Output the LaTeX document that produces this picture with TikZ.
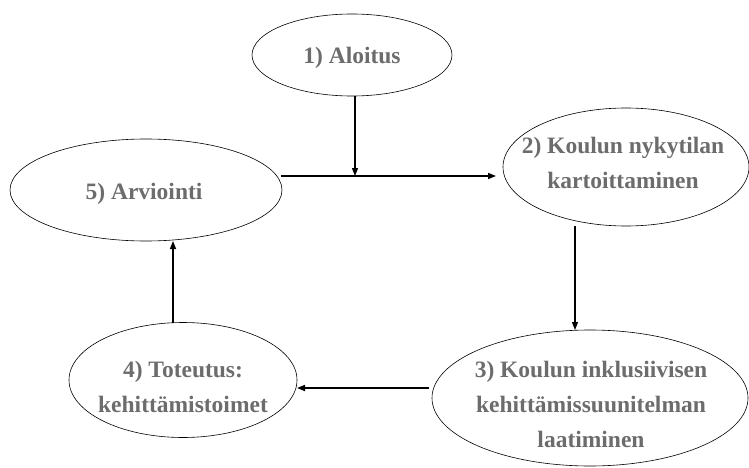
\documentclass[tikz,border=0pt]{standalone}
\usepackage{fontspec}
\setmainfont{Liberation Serif}
\usetikzlibrary{shapes.geometric,arrows.meta}
\definecolor{txtgray}{RGB}{108,108,108}
\tikzset{
  stage/.style={ellipse, draw=black, line width=0.6pt, inner sep=0pt, outer sep=0pt},
  stagetext/.style={anchor=base, inner sep=0pt, text=txtgray,
    font=\bfseries\fontsize{23.5}{35}\selectfont},
  arr/.style={draw=black, line width=1.1pt, -{Triangle[length=8pt,width=6pt]}}
}
\newcommand{\stagelines}[1]{\begin{tabular}[t]{@{}c@{}}#1\end{tabular}}
\begin{document}
\begin{tikzpicture}[x=1pt,y=-1pt]
\useasboundingbox (0,0) rectangle (749,468);
\node[stage, minimum width=200pt, minimum height=82pt] (e1) at (352,55) {};
\node[stage, minimum width=272pt, minimum height=102pt] (e5) at (146,190) {};
\node[stage, minimum width=246pt, minimum height=118pt] (e2) at (626,167) {};
\node[stage, minimum width=316pt, minimum height=136pt] (e3) at (590,398) {};
\node[stage, minimum width=228pt, minimum height=115pt] (e4) at (183,380) {};
\node[stagetext] (e1t) at (352,63.5) {1) Aloitus};
\node[stagetext] (e5t) at (144,199.5) {5) Arviointi};
\node[stagetext] (e2t) at (623,153.5) {\stagelines{2) Koulun nykytilan\\kartoittaminen}};
\node[stagetext] (e3t) at (591,377) {\stagelines{3) Koulun inklusiivisen\\kehittämissuunitelman\\laatiminen}};
\node[stagetext] (e4t) at (183,377) {\stagelines{4) Toteutus:\\kehittämistoimet}};
\coordinate (J) at (355,176);
\coordinate (h1) at (281,176);
\coordinate (h2) at (496,176);
\coordinate (a23) at (575,0);
\coordinate (a34) at (0,388);
\coordinate (a45) at (173,0);
\draw[arr, line width=1.6pt] (h1) -- (h2);
\draw[arr] (J |- e1.south) -- (J);
\draw[arr] (a23 |- e2.south) -- (a23 |- e3.north);
\draw[arr, line width=1.6pt, shorten <=3pt] (a34 -| e3.west) -- (a34 -| e4.east);
\draw[arr, line width=1.4pt] (a45 |- e4.north) -- (a45 |- e5.south);
\end{tikzpicture}
\end{document}
